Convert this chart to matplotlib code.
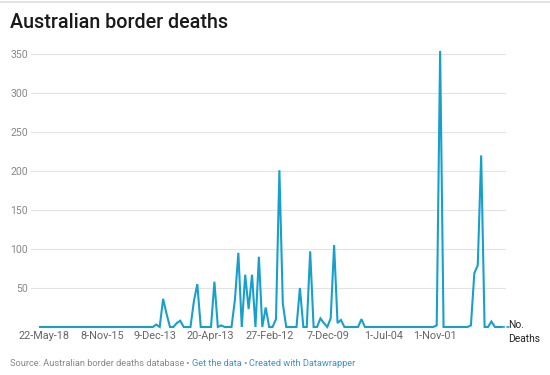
import matplotlib
matplotlib.use('Agg')
import matplotlib.pyplot as plt
from matplotlib.lines import Line2D

plt.rcParams['font.family'] = ['Roboto', 'DejaVu Sans']

# deaths per record, newest (left) to oldest (right)
deaths = [0]*33 + [
    0, 3, 0, 36, 17, 0, 0, 5, 8, 0,      # 33-42
    0, 0, 33, 55, 0, 0, 0, 0, 58, 0,     # 43-52
    2, 0, 0, 0, 35, 95, 0, 67, 23, 67,   # 53-62
    0, 90, 0, 25, 0, 0, 10, 201, 30, 0,  # 63-72
    0, 0, 0, 50, 0, 0, 97, 0, 0, 11,     # 73-82
    5, 0, 11, 105, 5, 9, 0, 0, 0, 0,     # 83-92
    0, 10, 0, 0, 0, 0, 0, 0, 0, 0,       # 93-102
    0, 0, 0, 0, 0, 0, 0, 0, 0, 0,        # 103-112
    0, 0, 0, 2, 354, 0, 0, 0, 0, 0,      # 113-122
    0, 0, 0, 2, 69, 79, 220, 0, 0, 7,    # 123-132
    0, 0, 0,                             # 133-135
]
idx = list(range(len(deaths)))

tick_pos = [1.2, 18.2, 33.5, 49.7, 67.2, 84.3, 100.5, 115.6]
tick_labels = ['22-May-18', '8-Nov-15', '9-Dec-13', '20-Apr-13',
               '27-Feb-12', '7-Dec-09', '1-Jul-04', '1-Nov-01']
y_ticks = [50, 100, 150, 200, 250, 300, 350]

W, H = 550, 375
fig = plt.figure(figsize=(W/100, H/100), dpi=100)
ax = fig.add_axes([31/W, (H-329.3)/H, 475/W, 283.1/H])

line_col = '#18a0cc'
ax.plot(idx, deaths, color=line_col, lw=1.5, solid_joinstyle='miter', clip_on=False)

ax.set_xlim(-2.63, 136.26)
ax.set_ylim(-3, 360)
ax.set_yticks(y_ticks)
ax.set_yticklabels([str(v) for v in y_ticks])
ax.set_xticks(tick_pos)
ax.set_xticklabels(tick_labels)
ax.tick_params(axis='y', length=0, pad=2.2, labelsize=7.6, labelcolor='#888888')
ax.tick_params(axis='x', length=0, pad=1.5, labelsize=7.8, labelcolor='#666666')
ax.grid(axis='y', color='#e3e3e3', lw=0.8)
ax.set_axisbelow(True)
for s in ax.spines.values():
    s.set_visible(False)

# end label
ax.annotate('', xy=(idx[-1], deaths[-1]), xytext=(7, 0), textcoords='offset pixels',
            arrowprops=dict(arrowstyle='-', linestyle=':', color=line_col, lw=1.2,
                            shrinkA=0, shrinkB=0))
ax.annotate('No.\nDeaths', xy=(idx[-1], deaths[-1]), xytext=(6, 7), textcoords='offset pixels',
            ha='left', va='top', fontsize=7.4, color='#222222', linespacing=1.45,
            annotation_clip=False)

# top border line
fig.add_artist(Line2D([0, 1], [1 - 1.5/H, 1 - 1.5/H], transform=fig.transFigure,
                      color='#dddddd', lw=1.2))

fig.text(10/W, 1 - 22.5/H, 'Australian border deaths', fontsize=14.2, color='#1a1a1a',
         ha='left', va='center', fontweight='medium')

# footer
r = fig.canvas.get_renderer()
yf = 1 - 363/H
x0 = 10/W
parts = [('Source: Australian border deaths database', '#888888'),
         (' \u2022 ', '#888888'),
         ('Get the data', '#3d94c8'),
         (' \u2022 ', '#888888'),
         ('Created with Datawrapper', '#3d94c8')]
for txt, col in parts:
    t = fig.text(x0, yf, txt, fontsize=6.7, color=col, ha='left', va='center')
    bb = t.get_window_extent(renderer=r)
    x0 += bb.width / W

fig.savefig('out.png', dpi=100)
